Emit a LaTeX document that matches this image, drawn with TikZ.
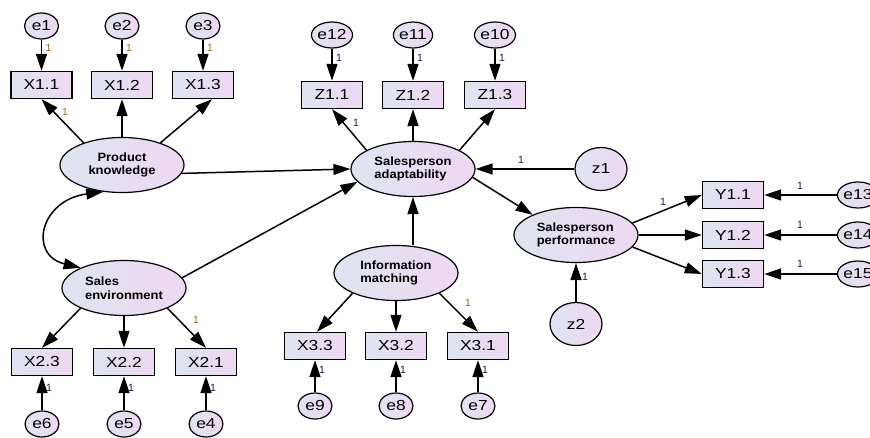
\documentclass[tikz,border=0pt]{standalone}
\usepackage{fontspec}
\setmainfont{Liberation Sans}
\newfontfamily\boxfont[FakeStretch=1.2]{Liberation Sans}
\newfontfamily\latfont[FakeStretch=1.08]{Liberation Sans}
\usetikzlibrary{shapes.geometric,arrows.meta}
\definecolor{fillL}{RGB}{222,228,240}
\definecolor{fillR}{RGB}{238,216,242}
\definecolor{lblbrown}{RGB}{150,105,20}
\definecolor{lblnavy}{RGB}{25,25,70}
\begin{document}
\begin{tikzpicture}[x=1pt,y=-1pt,
  fillgrad/.style={left color=fillL,right color=fillR},
  obsbox/.style={draw,line width=1.4pt,fillgrad,minimum width=61pt,minimum height=27pt,inner sep=0pt,font=\boxfont\fontsize{14.5}{16}\selectfont},
  errnode/.style={ellipse,draw,line width=1.2pt,fillgrad,minimum width=34pt,minimum height=26pt,inner sep=0pt,font=\boxfont\fontsize{14.5}{16}\selectfont},
  latnode/.style={ellipse,draw,line width=1.2pt,fillgrad,minimum width=124pt,minimum height=55pt,inner sep=0pt,align=left,font=\latfont\bfseries\fontsize{12}{13.5}\selectfont},
  disnode/.style={ellipse,draw,line width=1.2pt,fillgrad,minimum width=52pt,minimum height=43pt,inner sep=0pt,font=\boxfont\fontsize{14.5}{16}\selectfont},
  arr/.style={-{Triangle[length=17pt,width=11pt]},line width=1.5pt},
  dblarr/.style={{Triangle[length=17pt,width=11pt]}-{Triangle[length=17pt,width=11pt]},line width=1.5pt},
  one/.style={font=\fontsize{10.5}{11}\selectfont,text=lblnavy,inner sep=0pt},
  oneb/.style={one,text=lblbrown}
]
\useasboundingbox (0,0) rectangle (870,437);
\fill[white] (0,0) rectangle (870,437);

% latent variables
\node[latnode,align=center] (PK) at (122,165) {Product\\knowledge};
\node[latnode] (SE) at (124,288) {Sales\\environment};
\node[latnode] (SA) at (413,169) {Salesperson\\adaptability};
\node[latnode] (IM) at (396,273) {Information\\matching};
\node[latnode] (SP) at (576,235) {Salesperson\\performance};

% disturbances
\node[disnode] (z1) at (601,169) {z1};
\node[disnode] (z2) at (576,324) {z2};

% observed: product knowledge
\node[obsbox] (X11) at (41.5,85) {X1.1};
\node[obsbox] (X12) at (122,85) {X1.2};
\node[obsbox] (X13) at (203,85) {X1.3};
\node[errnode] (e1) at (41.5,26) {e1};
\node[errnode] (e2) at (122,26) {e2};
\node[errnode] (e3) at (203,26) {e3};

% observed: adaptability
\node[obsbox] (Z11) at (332,95) {Z1.1};
\node[obsbox] (Z12) at (413,95) {Z1.2};
\node[obsbox] (Z13) at (495,95) {Z1.3};
\node[errnode] (e12) at (332,35) {e12};
\node[errnode] (e11) at (413,35) {e11};
\node[errnode] (e10) at (495,35) {e10};

% observed: sales environment
\node[obsbox] (X23) at (42,362) {X2.3};
\node[obsbox] (X22) at (124,362) {X2.2};
\node[obsbox] (X21) at (206,362) {X2.1};
\node[errnode] (e6) at (42,424) {e6};
\node[errnode] (e5) at (124,424) {e5};
\node[errnode] (e4) at (206,424) {e4};

% observed: information matching
\node[obsbox] (X33) at (315,346) {X3.3};
\node[obsbox] (X32) at (396,346) {X3.2};
\node[obsbox] (X31) at (478,346) {X3.1};
\node[errnode] (e9) at (315,406) {e9};
\node[errnode] (e8) at (396,406) {e8};
\node[errnode] (e7) at (478,406) {e7};

% observed: performance
\node[obsbox] (Y11) at (733,195) {Y1.1};
\node[obsbox] (Y12) at (733,235) {Y1.2};
\node[obsbox] (Y13) at (733,274) {Y1.3};
\node[errnode] (e13) at (858,195) {e13};
\node[errnode] (e14) at (858,235) {e14};
\node[errnode] (e15) at (858,274) {e15};

% error arrows
\foreach \e/\x in {e1/X11,e2/X12,e3/X13,e12/Z11,e11/Z12,e10/Z13}
  \draw[arr] (\e.south) -- (\x.north);
\foreach \e/\x in {e6/X23,e5/X22,e4/X21,e9/X33,e8/X32,e7/X31}
  \draw[arr] (\e.north) -- (\x.south);
\foreach \e/\x in {e13/Y11,e14/Y12,e15/Y13}
  \draw[arr] (\e.west) -- (\x.east);

% loadings
\draw[arr] (PK.150) -- (X11.south);
\draw[arr] (PK.north) -- (X12.south);
\draw[arr] (PK.30) -- ([xshift=9pt]X13.south);
\draw[arr] (SA.158) -- (Z11.south);
\draw[arr] (SA.north) -- (Z12.south);
\draw[arr] (SA.22) -- (Z13.south);
\draw[arr] (SE.205) -- (X23.north);
\draw[arr] (SE.south) -- (X22.north);
\draw[arr] (SE.335) -- (X21.north);
\draw[arr] (IM.205) -- ([xshift=2pt]X33.north);
\draw[arr] (IM.south) -- (X32.north);
\draw[arr] (IM.335) -- (X31.north);
\draw[arr] (SP.12) -- (Y11.west);
\draw[arr] (SP.east) -- (Y12.west);
\draw[arr] (SP.-12) -- (Y13.west);

% structural paths
\draw[arr] (PK.-8) -- (SA.west);
\draw[arr] (SE.10) -- (SA.193);
\draw[arr] (IM.north -| SA.south) -- (SA.south);
\draw[arr] (z1.west) -- (SA.east);
\draw[arr] (SA.-8) -- (SP.155);
\draw[arr] (z2.north) -- (SP.south);

% covariance
\draw[dblarr] (PK.235) .. controls (40,200) and (28,255) .. (SE.155);

% labels "1"
\node[oneb] (l1) at (48.5,48) {1};
\node[oneb] (l2) at (129,48) {1};
\node[oneb] (l3) at (210,48) {1};
\node[oneb] (l4) at (65,112) {1};
\node[one] (l5) at (339,58) {1};
\node[one] (l6) at (420,58) {1};
\node[one] (l7) at (502,58) {1};
\node[one] (l8) at (356,123) {1};
\node[one] (l9) at (521,160) {1};
\node[one] (l10) at (663,202) {1};
\node[one] (l11) at (585,277) {1};
\node[one] (l12) at (800,186) {1};
\node[one] (l13) at (800,225) {1};
\node[one] (l14) at (800,264) {1};
\node[oneb] (l15) at (196,320) {1};
\node[one] (l16) at (49,388) {1};
\node[one] (l17) at (131,388) {1};
\node[one] (l18) at (213,388) {1};
\node[oneb] (l19) at (468,303) {1};
\node[one] (l20) at (322,370) {1};
\node[one] (l21) at (403,370) {1};
\node[one] (l22) at (485,370) {1};
\end{tikzpicture}
\end{document}
